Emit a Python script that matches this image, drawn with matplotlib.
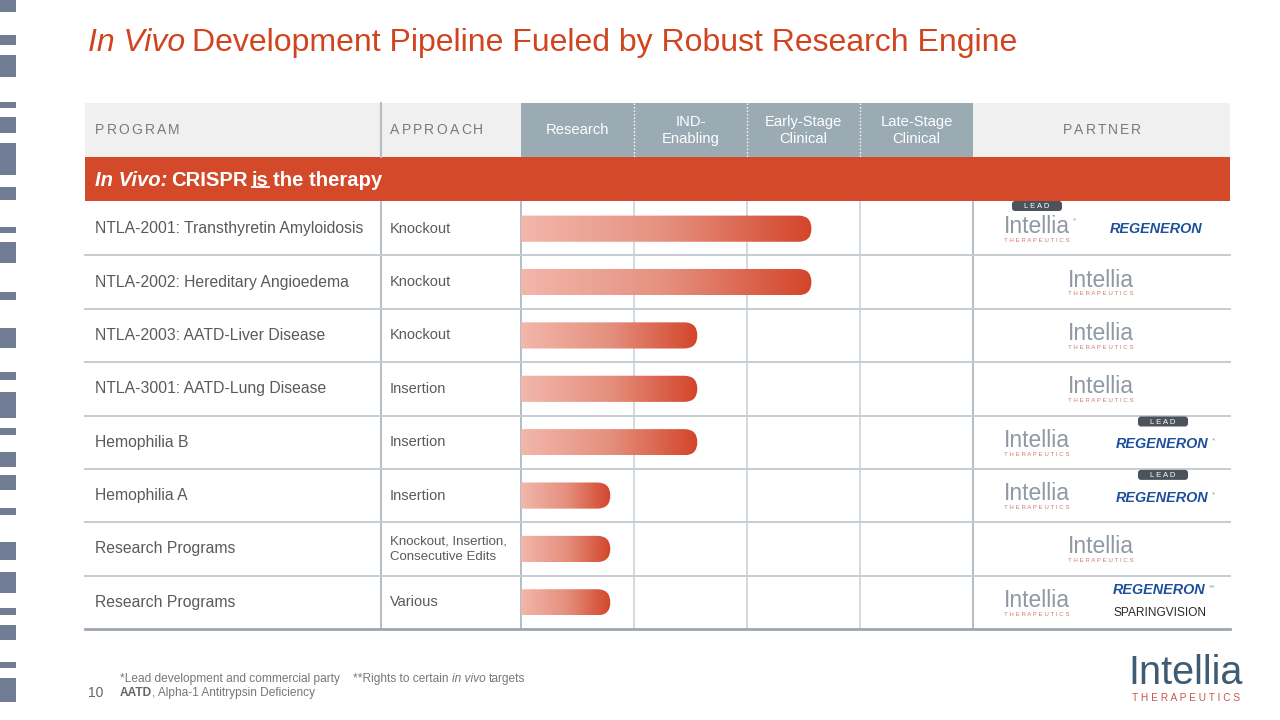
import numpy as np
import matplotlib.pyplot as plt
from matplotlib.patches import Rectangle, FancyBboxPatch
from matplotlib.colors import LinearSegmentedColormap

plt.rcParams['font.family'] = ['Liberation Sans', 'DejaVu Sans']

# chart data
stages = ["Research", "IND-\nEnabling", "Early-Stage\nClinical", "Late-Stage\nClinical"]
programs = ["NTLA-2001: Transthyretin Amyloidosis", "NTLA-2002: Hereditary Angioedema",
            "NTLA-2003: AATD-Liver Disease", "NTLA-3001: AATD-Lung Disease",
            "Hemophilia B", "Hemophilia A", "Research Programs", "Research Programs"]
approaches = ["Knockout", "Knockout", "Knockout", "Insertion", "Insertion", "Insertion",
              "Knockout, Insertion,\nConsecutive Edits", "Various"]
# progress measured in stage widths (0 = start of Research, 4 = end of Late-Stage)
progress = [2.57, 2.57, 1.56, 1.56, 1.56, 0.79, 0.79, 0.79]
# partner layout per row: "solo" = Intellia only, else Intellia + partner(s)
partners = ["lead_intellia", "solo", "solo", "solo", "lead_regeneron", "lead_regeneron",
            "solo", "regeneron_sparing"]

RED = '#D3492A'
GREY_TXT = '#5A5A5A'

fig = plt.figure(figsize=(12.8, 7.2), dpi=100)
ax = fig.add_axes([0, 0, 1, 1])
ax.set_xlim(0, 1280)
ax.set_ylim(720, 0)
ax.axis('off')

# decorative strip on the left edge
strip = [(0, 12), (35, 10), (55, 22), (102, 6), (117, 16), (143, 32), (187, 13), (227, 6),
         (242, 21), (292, 8), (328, 20), (372, 8), (392, 26), (428, 7), (452, 15), (475, 15),
         (508, 7), (542, 18), (572, 21), (608, 7), (625, 15), (662, 6), (678, 24)]
for y0, h in strip:
    ax.add_patch(Rectangle((0, y0), 16, h, color='#707C94', lw=0))


def spaced(x, y, s, gap, **kw):
    # letter-spaced text, chained character by character
    t = ax.text(x, y, s[0], va='center', **kw)
    for ch in s[1:]:
        t = ax.annotate(ch, xy=(1, 0.5), xycoords=t, xytext=(gap, 0),
                        textcoords='offset pixels', va='center', **kw)
    return t


# title
t = ax.text(88, 43, "In Vivo", fontsize=23, style='italic', color='#D0441F', va='center')
ax.annotate("Development Pipeline Fueled by Robust Research Engine", xy=(1, 0.5), xycoords=t,
            xytext=(7, 0), textcoords='offset pixels', va='center', fontsize=23, color='#D0441F')

# header row
top, band_top, rows_top, rows_bot = 103, 157, 202, 629
x_prog, x_app, x_st0, x_st1, x_end, x_left = 381, 521, 521, 973, 1230, 85
ax.add_patch(Rectangle((x_left, top), x_end - x_left, band_top - top, color='#F0F0F0', lw=0))
ax.add_patch(Rectangle((x_st0, top), x_st1 - x_st0, band_top - top, color='#9AABB4', lw=0))
ax.plot([x_prog, x_prog], [top, band_top], color='#B5BDC4', lw=1.5)
stage_w = (x_st1 - x_st0) / len(stages)
for k, s in enumerate(stages):
    xc = x_st0 + stage_w * (k + 0.5)
    ax.text(xc, 130.5, s, ha='center', va='center', color='white', fontsize=10.6, linespacing=1.25)
    if k > 0:
        xs = x_st0 + stage_w * k
        ax.plot([xs, xs], [top, band_top], color='white', lw=1, ls=(0, (1, 1.5)))

spaced(95, 130, "PROGRAM", 2.2, fontsize=10, color='#7A7A7A')
spaced(390, 130, "APPROACH", 2.2, fontsize=10, color='#7A7A7A')
spaced(1063, 130, "PARTNER", 2.0, fontsize=10, color='#7A7A7A')

# red band
ax.add_patch(Rectangle((x_left, band_top), x_end - x_left, rows_top - band_top - 1, color=RED, lw=0))
fs_band = 14.6
t = ax.text(95, 180, "In Vivo:", fontsize=fs_band, weight='bold', style='italic', color='white', va='center')
t = ax.annotate("CRISPR", xy=(1, 0.5), xycoords=t, xytext=(4, 0), textcoords='offset pixels',
                va='center', fontsize=fs_band, weight='bold', color='white')
t_is = ax.annotate("is", xy=(1, 0.5), xycoords=t, xytext=(4, 0), textcoords='offset pixels',
                   va='center', fontsize=fs_band, weight='bold', color='white')
ax.annotate("the therapy", xy=(1, 0.5), xycoords=t_is, xytext=(4, 0), textcoords='offset pixels',
            va='center', fontsize=fs_band, weight='bold', color='white')

# table rows
n = len(programs)
row_h = (rows_bot - rows_top) / n
for x in [x_prog, x_app, x_st1]:
    ax.plot([x, x], [rows_top, rows_bot], color='#AEB7BF', lw=1.3, zorder=1)
for k in range(1, len(stages)):
    xs = x_st0 + stage_w * k
    ax.plot([xs, xs], [rows_top, rows_bot], color='#CBD3DA', lw=1.2, zorder=1)
for i in range(n):
    yb = rows_top + row_h * (i + 1)
    last = i == n - 1
    ax.plot([x_left, x_end], [yb, yb], color='#9CA6AF' if last else '#C5CCD2',
            lw=2 if last else 1.4, zorder=1)
    yc = rows_top + row_h * (i + 0.5)
    ax.text(95, yc, programs[i], fontsize=11.3, color=GREY_TXT, va='center')
    fs = 9.5 if '\n' in approaches[i] else 10.5
    ax.text(390, yc, approaches[i], fontsize=fs, color=GREY_TXT, va='center', linespacing=1.35)


def intellia(xc, yc, size=16.5, color='#8E99A3', sub='#D07A6C', sub_size=4.4):
    ax.text(xc, yc - 2, "Intellia", fontsize=size, color=color, ha='center', va='center')
    ax.text(xc, yc + size * 0.72, " ".join("THERAPEUTICS"), fontsize=sub_size, color=sub,
            ha='center', va='center')


def regeneron(x, yc, stars=""):
    t = ax.text(x, yc, "REGENERON", fontsize=10.4, weight='bold', style='italic',
                color='#1D4F9B', va='center')
    if stars:
        ax.annotate(stars, xy=(1, 0.7), xycoords=t, xytext=(3, 0), textcoords='offset pixels',
                    va='center', fontsize=6, color='#9AA3AB')


def lead(x0, y0):
    ax.add_patch(FancyBboxPatch((x0, y0), 50, 10, boxstyle="round,pad=0,rounding_size=3",
                                color='#4C535A', lw=0, zorder=3))
    ax.text(x0 + 25, y0 + 5.5, "L E A D", fontsize=5.5, color='white', ha='center',
            va='center', zorder=4)


for i, p in enumerate(partners):
    yc = rows_top + row_h * (i + 0.5)
    if p == "solo":
        intellia(1101, yc)
    elif p == "lead_intellia":
        intellia(1037, yc)
        ax.text(1073, yc - 8, "*", fontsize=6, color='#9AA3AB', va='center')
        lead(1012, rows_top - 1)
        regeneron(1110, yc)
    elif p == "lead_regeneron":
        intellia(1037, yc)
        regeneron(1116, yc + 2, "*")
        lead(1138, rows_top + row_h * i + 1)
    elif p == "regeneron_sparing":
        intellia(1037, yc)
        regeneron(1113, yc - 12, "**")
        ax.text(1113, yc + 11, "SPARINGVISION", fontsize=8.6, color='#2A2A2A', va='center')

# progress bars in their own axes, one x unit per stage
bax = fig.add_axes([x_st0 / 1280, (720 - rows_bot) / 720, (x_st1 - x_st0) / 1280,
                    (rows_bot - rows_top) / 720])
bax.axis('off')
cmap = LinearSegmentedColormap.from_list('bar', ['#F2B7AB', '#E5907F', '#D3452A'])
grad = np.linspace(0, 1, 256).reshape(1, -1)
hh = 0.245
ma = (n / (rows_bot - rows_top)) / (len(stages) / (x_st1 - x_st0))
for i, v in enumerate(progress):
    im = bax.imshow(grad, extent=[0, v, i + 0.5 + hh, i + 0.5 - hh], aspect='auto',
                    cmap=cmap, interpolation='bilinear')
    clip = FancyBboxPatch((-0.3, i + 0.5 - hh), v + 0.3, 2 * hh,
                          boxstyle=f"round,pad=0,rounding_size={hh / ma}",
                          mutation_aspect=ma, fc='none', ec='none')
    bax.add_patch(clip)
    im.set_clip_path(clip)
bax.set_xlim(0, len(stages))
bax.set_ylim(n, 0)

# underline under "is"
fig.canvas.draw()
bb = t_is.get_window_extent(fig.canvas.get_renderer())
inv = ax.transData.inverted()
(ux0, uy), (ux1, _) = inv.transform([(bb.x0, bb.y0 + 3), (bb.x1, bb.y0 + 3)])
ax.plot([ux0, ux1], [uy, uy], color='white', lw=1.3)

# footer
fs_foot = 8.6
ax.text(88, 693, "10", fontsize=10, color='#666666', va='center')
t = ax.text(120, 679, "*Lead development and commercial party    **Rights to certain", fontsize=fs_foot,
            color='#777777', va='center')
t = ax.annotate("in vivo", xy=(1, 0.5), xycoords=t, xytext=(3, 0), textcoords='offset pixels',
                va='center', fontsize=fs_foot, style='italic', color='#777777')
ax.annotate("targets", xy=(1, 0.5), xycoords=t, xytext=(4, 0), textcoords='offset pixels',
            va='center', fontsize=fs_foot, color='#777777')
t = ax.text(120, 693, "AATD", fontsize=fs_foot, weight='bold', color='#666666', va='center')
ax.annotate(", Alpha-1 Antitrypsin Deficiency", xy=(1, 0.5), xycoords=t, textcoords='offset pixels',
            xytext=(0, 0), va='center', fontsize=fs_foot, color='#777777')

# company logo, bottom right
ax.text(1186, 673, "Intellia", fontsize=28.5, color='#3E5B74', ha='center', va='center')
ax.text(1186, 698, " ".join("THERAPEUTICS"), fontsize=7.3, color='#C8574A', ha='center', va='center')

fig.savefig("out.png", dpi=100)
